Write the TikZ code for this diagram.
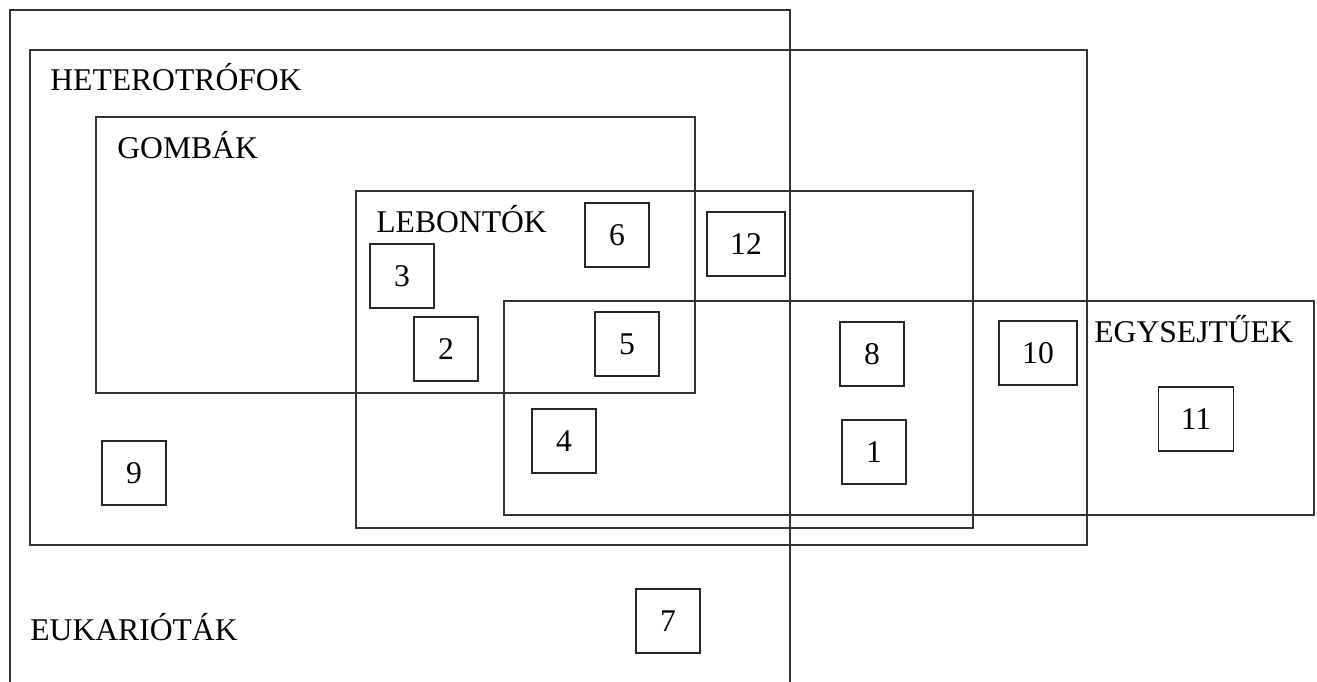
\documentclass[tikz,border=0pt]{standalone}
\usepackage{fontspec}
\setmainfont{Liberation Serif}
\begin{document}
\begin{tikzpicture}[
        x={(0.02cm,0)}, y={(0,-0.02cm)},
        setbox/.style={draw=black!80, line width=0.6pt},
        setlabel/.style={anchor=base west, inner sep=0pt, font=\fontsize{18}{21}\selectfont},
        numbox/.style={draw=black!85, line width=1pt, minimum width=1.28cm, minimum height=1.28cm,
          inner sep=0pt, font=\fontsize{18}{21}\selectfont},
        widebox/.style={numbox, minimum width=1.56cm},
      ]
      \useasboundingbox (0,0) rectangle (1317,682);

      \draw[setbox] (10,682) -- (10,10) -- (790,10) -- (790,682);
      \draw[setbox] (30,50) rectangle (1087,545);
      \draw[setbox] (96,117) rectangle (695,393);
      \draw[setbox] (356,191) rectangle (973,528);
      \draw[setbox] (504,301) rectangle (1314,515);

      \node[setlabel] (hetero) at (50,91) {HETEROTRÓFOK};
      \node[setlabel] (gomba) at (117,159) {GOMBÁK};
      \node[setlabel] (lebonto) at (376,233) {LEBONTÓK};
      \node[setlabel] (egysejt) at (1094,342) {EGYSEJTŰEK};
      \node[setlabel] (eukar) at (30,640) {EUKARIÓTÁK};

      \node[numbox] (n1) at (874,452) {1};
      \node[numbox] (n2) at (446,349) {2};
      \node[numbox] (n3) at (402,276) {3};
      \node[numbox] (n4) at (564,441) {4};
      \node[numbox] (n5) at (627,344) {5};
      \node[numbox] (n6) at (617,235) {6};
      \node[numbox] (n7) at (668,621) {7};
      \node[numbox] (n8) at (872,354) {8};
      \node[numbox] (n9) at (134,473) {9};
      \node[widebox] (n10) at (1038,353) {10};
      \node[widebox, minimum width=1.5cm] (n11) at (1196,419) {11};
      \node[widebox] (n12) at (746,244) {12};

    \end{tikzpicture}
\end{document}
